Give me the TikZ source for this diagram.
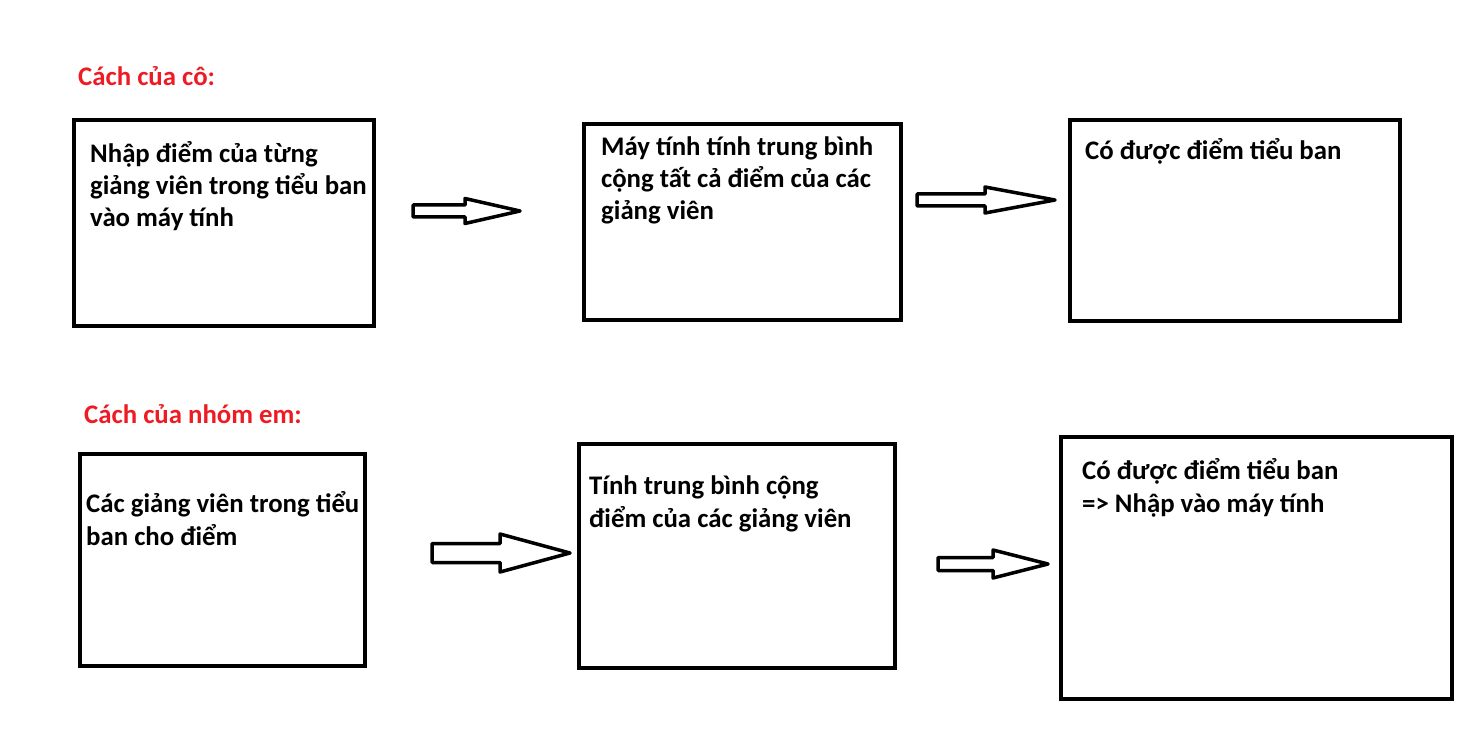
\documentclass[tikz,border=0pt]{standalone}
\usepackage{fontspec}
\setmainfont{Carlito}
\usetikzlibrary{calc}

\definecolor{paintred}{RGB}{237,28,36}

% hollow block arrow from #1 to the tip #2
% (#3 head length, #4 half shaft, #5 half head)
\newcommand{\hollowarrow}[5]{%
  \draw[fatarrow] let \p1=(#1), \p2=(#2) in
    (\x1,\y2+#4pt) -- (\x2-#3pt,\y2+#4pt) -- (\x2-#3pt,\y2+#5pt)
    -- (\x2,\y2) -- (\x2-#3pt,\y2-#5pt) -- (\x2-#3pt,\y2-#4pt)
    -- (\x1,\y2-#4pt) -- cycle;}

\begin{document}
\begin{tikzpicture}[
  x=1pt, y=-1pt,
  every node/.style={font=\fontsize{26.8}{32.4}\selectfont\bfseries},
  stepbox/.style={rectangle, draw=black, line width=4pt, outer sep=0pt,
                  inner sep=0pt, anchor=north west},
  steptext/.style={anchor=base west, align=left, inner sep=0pt},
  waytitle/.style={anchor=base west, inner sep=0pt, text=paintred},
  fatarrow/.style={draw=black, fill=white, line width=3.5pt, line join=round}
]
  \useasboundingbox (0,0) rectangle (1480,743);

  % Teacher's way
  \node[waytitle] (coTitle) at (78,86) {Cách của cô:};

  \node[stepbox, minimum width=300pt, minimum height=206pt]
    (coBox1) at (74,120) {};
  \node[stepbox, minimum width=317pt, minimum height=196pt]
    (coBox2) at (584,124) {};
  \node[stepbox, minimum width=330pt, minimum height=201pt]
    (coBox3) at (1070,120) {};

  % texts sit on the baseline of their last line
  \node[steptext] (coText1) at (90,227)
    {Nhập điểm của từng\\giảng viên trong tiểu ban\\vào máy tính};
  \node[steptext] (coText2) at (601,220)
    {Máy tính tính trung bình\\cộng tất cả điểm của các\\giảng viên};
  \node[steptext] (coText3) at (1085,160)
    {Có được điểm tiểu ban};

  \coordinate (coArrow1s) at (413,211);
  \coordinate (coArrow1t) at (520,211);
  \coordinate (coArrow2s) at (917,200);
  \coordinate (coArrow2t) at (1055,200);
  \hollowarrow{coArrow1s}{coArrow1t}{55}{6}{12.5}
  \hollowarrow{coArrow2s}{coArrow2t}{70}{6}{13}

  % Group's way
  \node[waytitle] (emTitle) at (84,423) {Cách của nhóm em:};

  \node[stepbox, minimum width=285pt, minimum height=212pt]
    (emBox1) at (80,454) {};
  \node[stepbox, minimum width=316pt, minimum height=224pt]
    (emBox2) at (579,444) {};
  \node[stepbox, minimum width=391pt, minimum height=262pt]
    (emBox3) at (1061,437) {};

  \node[steptext] (emText1) at (86,545)
    {Các giảng viên trong tiểu\\ban cho điểm};
  \node[steptext] (emText2) at (589,527)
    {Tính trung bình cộng\\điểm của các giảng viên};
  \node[steptext] (emText3) at (1082,512)
    {Có được điểm tiểu ban\\=> Nhập vào máy tính};

  \coordinate (emArrow1s) at (432,553);
  \coordinate (emArrow1t) at (570,553);
  \coordinate (emArrow2s) at (938,564);
  \coordinate (emArrow2t) at (1048,564);
  \hollowarrow{emArrow1s}{emArrow1t}{70}{9.5}{19}
  \hollowarrow{emArrow2s}{emArrow2t}{55}{6.5}{14}
\end{tikzpicture}
\end{document}
